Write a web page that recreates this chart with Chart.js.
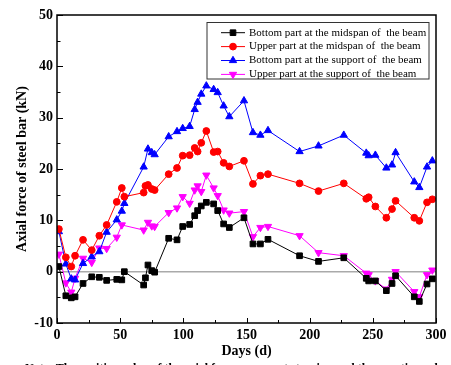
<!DOCTYPE html>
<html><head><meta charset="utf-8">
<script src="https://cdn.jsdelivr.net/npm/chart.js@4.4.1/dist/chart.umd.min.js"></script>
<style>
html,body{margin:0;padding:0;background:#fff;overflow:hidden;width:451px;height:365px;}
#wrap{position:relative;width:451px;height:365px;overflow:hidden;}
canvas{display:block;}
#note{position:absolute;left:25px;top:361.5px;white-space:nowrap;font:bold 12px "Liberation Serif",serif;line-height:12px;color:#000;}
</style></head><body>
<div id="wrap"><canvas id="c" width="451" height="365"></canvas>
<div id="note">Note: The positive value of the axial force represents tension and the negative value represents compression</div></div>
<script>
// ---- data (days and axial force in kN) ----
const days = [1.5, 7, 11.3, 14.3, 20.6, 27.5, 33.5, 39.3, 47.3, 51.3, 53.3, 68.6, 70, 72, 75, 77.3, 88.4, 95, 99.5, 105, 109, 111.3, 114.2, 118.2, 124, 127.2, 131.9, 136.4, 148, 155.1, 161, 167, 192, 207, 227, 244.8, 246.7, 252, 260.7, 265.2, 268, 282.8, 286.8, 292.9, 297.1];
const bottomMidspan = [1.0, -4.7, -5.1, -4.9, -2.3, -1.0, -1.1, -1.7, -1.5, -1.6, 0.0, -2.6, -1.2, 1.3, 0.2, -0.1, 6.5, 6.2, 8.8, 9.2, 10.9, 11.9, 12.8, 13.5, 13.2, 11.9, 9.3, 8.6, 10.5, 5.4, 5.4, 6.3, 3.1, 2.0, 2.7, -1.3, -1.8, -1.8, -3.7, -2.3, -0.8, -4.9, -5.8, -2.4, -1.4];
const upperMidspan = [8.3, 2.8, 1.0, 3.1, 6.2, 4.2, 7.0, 9.1, 13.6, 16.3, 14.6, 15.4, 16.7, 16.9, 16.1, 15.9, 19.0, 20.2, 22.6, 22.7, 24.1, 23.4, 25.1, 27.4, 23.3, 23.4, 21.2, 20.5, 21.6, 17.1, 18.7, 19.0, 17.2, 15.7, 17.2, 14.2, 14.5, 12.7, 10.5, 12.2, 13.8, 10.5, 9.9, 13.5, 14.1];
const bottomSupport = [7.8, 1.5, -1.4, -1.6, 1.6, 2.9, 3.9, 7.7, 10.1, 11.8, 13.3, 20.4, null, 23.9, 23.2, 22.8, 26.3, 27.3, 27.9, 28.3, 31.6, 33.0, 34.6, 36.2, 35.5, 34.9, 32.3, 30.2, 33.3, 27.1, 26.6, 27.5, 23.4, 24.5, 26.6, 23.1, 22.6, 22.7, 20.2, 20.8, 23.2, 17.5, 16.4, 20.4, 21.6];
const upperSupport = [3.4, -2.2, -4.0, -1.3, 2.6, 1.8, 4.6, 4.5, 6.7, 9.1, null, 8.1, null, 9.6, 8.9, 8.8, 11.5, 12.4, 14.6, 13.3, 15.9, 16.7, 15.6, 18.8, 16.3, 14.8, 12.0, 11.4, 11.7, 6.8, 8.6, 8.8, 7.0, 3.7, 3.1, -0.3, -0.6, -1.8, -3.4, -1.5, 0.0, -3.9, -4.9, -0.6, 0.3];
const seriesLabels = ["Bottom part at the midspan of  the beam", "Upper part at the midspan of  the beam", "Bottom part at the support of  the beam", "Upper part at the support of  the beam"];
const xTickValues = [0, 50, 100, 150, 200, 250, 300];
const yTickValues = [-10, 0, 10, 20, 30, 40, 50];
const xTitle = "Days (d)";
const yTitle = "Axial force of steel bar (kN)";

const styles = [
  {color:'#000000', pointStyle:'rect', radius:4, rotation:0},
  {color:'#ff0000', pointStyle:'circle', radius:3.4, rotation:0},
  {color:'#0000ff', pointStyle:'triangle', radius:4.2, rotation:0},
  {color:'#ff00ff', pointStyle:'triangle', radius:4.2, rotation:180}
];
const allSeries = [bottomMidspan, upperMidspan, bottomSupport, upperSupport];

const datasets = allSeries.map((vals, i) => ({
  label: seriesLabels[i],
  data: days.map((d, j) => ({x: d, y: vals[j]})),
  borderColor: styles[i].color,
  backgroundColor: styles[i].color,
  pointBackgroundColor: styles[i].color,
  pointBorderColor: styles[i].color,
  pointStyle: styles[i].pointStyle,
  pointRotation: styles[i].rotation,
  pointRadius: styles[i].radius,
  pointBorderWidth: 1,
  borderWidth: 1,
  tension: 0,
  spanGaps: true
}));

const SERIF = '"Liberation Serif", "Times New Roman", serif';

function drawMarker(ctx, st, x, y) {
  if (Chart.helpers && Chart.helpers.drawPoint) {
    ctx.fillStyle = st.color; ctx.strokeStyle = st.color; ctx.lineWidth = 1;
    Chart.helpers.drawPoint(ctx, {pointStyle: st.pointStyle, radius: st.radius, rotation: st.rotation, borderWidth: 1}, x, y);
  }
}

const decor = {
  id: 'decor',
  beforeDatasetsDraw(chart) {
    const {ctx, chartArea: a, scales: {x, y}} = chart;
    const y0 = y.getPixelForValue(0);
    ctx.save();
    ctx.strokeStyle = '#aaaaaa'; ctx.lineWidth = 1.5;
    ctx.beginPath(); ctx.moveTo(a.left, y0); ctx.lineTo(a.right, y0); ctx.stroke();
    ctx.restore();
  },
  afterDatasetsDraw(chart) {
    const {ctx, chartArea: a, scales: {x, y}} = chart;
    ctx.save();
    // ticks
    ctx.strokeStyle = '#000'; ctx.lineWidth = 1;
    ctx.beginPath();
    for (let v = x.min; v <= x.max; v += 25) {
      const px = Math.round(x.getPixelForValue(v)) + 0.5;
      const len = (v % 50 === 0) ? 5 : 3;
      ctx.moveTo(px, a.bottom); ctx.lineTo(px, a.bottom - len);
    }
    for (let v = y.min; v <= y.max; v += 5) {
      const py = Math.round(y.getPixelForValue(v)) + 0.5;
      const len = (v % 10 === 0) ? 6 : 3.5;
      ctx.moveTo(a.left, py); ctx.lineTo(a.left + len, py);
    }
    ctx.stroke();
    // frame
    ctx.lineWidth = 1.5;
    ctx.strokeRect(a.left, a.top, a.right - a.left, a.bottom - a.top);
    // axis titles
    ctx.fillStyle = '#000';
    ctx.font = 'bold 14px ' + SERIF;
    ctx.textAlign = 'center'; ctx.textBaseline = 'middle';
    ctx.fillText(xTitle, (a.left + a.right) / 2, 351);
    ctx.save();
    ctx.translate(22, (a.top + a.bottom) / 2);
    ctx.rotate(-Math.PI / 2);
    ctx.font = 'bold 14px ' + SERIF;
    ctx.fillText(yTitle, 0, 0);
    ctx.restore();
    // legend
    const bx = 207, by = 22.5, bw = 222, bh = 56.5;
    ctx.fillStyle = '#fff';
    ctx.fillRect(bx, by, bw, bh);
    ctx.strokeStyle = '#333'; ctx.lineWidth = 1;
    ctx.strokeRect(bx, by, bw, bh);
    ctx.textAlign = 'left'; ctx.textBaseline = 'middle';
    seriesLabels.forEach((lab, i) => {
      const ry = 32.7 + i * 13.9;
      const st = styles[i];
      ctx.strokeStyle = st.color; ctx.lineWidth = 1;
      ctx.beginPath(); ctx.moveTo(221, ry); ctx.lineTo(245, ry); ctx.stroke();
      drawMarker(ctx, st, 233, ry);
      ctx.fillStyle = '#000';
      ctx.font = '11px ' + SERIF;
      ctx.fillText(lab, 249, ry);
    });
    ctx.restore();
  }
};

new Chart(document.getElementById('c'), {
  type: 'line',
  data: {datasets},
  options: {
    responsive: false,
    animation: false,
    devicePixelRatio: 1,
    layout: {padding: {top: 15, right: 15, left: 0, bottom: 0}},
    plugins: {legend: {display: false}, tooltip: {enabled: false}},
    scales: {
      x: {
        type: 'linear', min: 0, max: 300,
        afterBuildTicks(s) { s.ticks = xTickValues.map(v => ({value: v})); },
        afterFit(s) { s.height = 42; },
        ticks: {font: {family: SERIF, weight: 'bold', size: 14}, color: '#000', padding: 4, maxRotation: 0},
        grid: {display: false, drawTicks: false},
        border: {display: false}
      },
      y: {
        type: 'linear', min: -10, max: 50,
        afterBuildTicks(s) { s.ticks = yTickValues.map(v => ({value: v})); },
        afterFit(s) { s.width = 57; },
        ticks: {font: {family: SERIF, weight: 'bold', size: 14}, color: '#000', padding: 4},
        grid: {display: false, drawTicks: false},
        border: {display: false}
      }
    }
  },
  plugins: [decor]
});
</script>
</body></html>
